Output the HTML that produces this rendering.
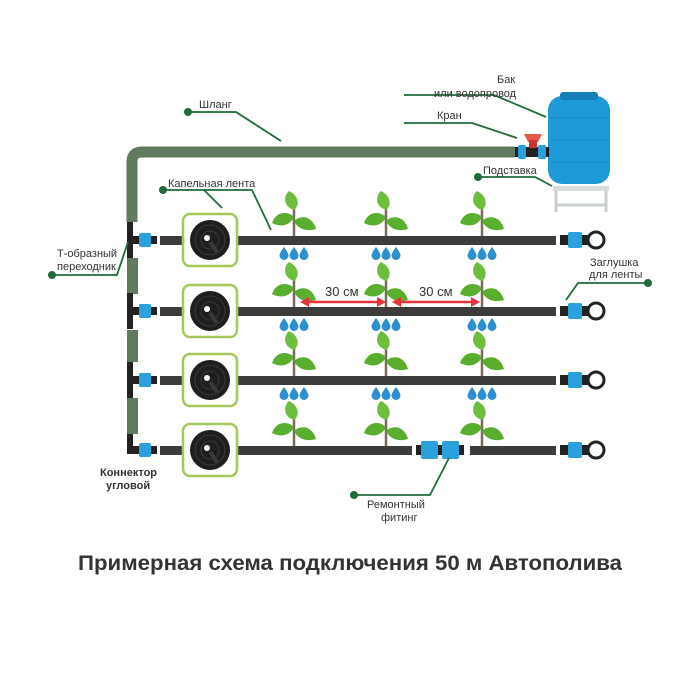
<!DOCTYPE html>
<html><head><meta charset="utf-8"><style>
html,body{margin:0;padding:0;background:#fff}
svg{display:block}
text{font-family:"Liberation Sans",sans-serif;fill:#333}
</style></head><body>
<svg width="700" height="700" viewBox="0 0 700 700" xmlns="http://www.w3.org/2000/svg">
<defs>
<g id="plant">
 <path d="M0 0 L0 -28" stroke="#7a6a5a" stroke-width="2.5" fill="none"/>
 <path d="M0 -26 C-12 -30 -10 -41 -5 -45 C5 -40 6 -31 0 -26Z" fill="#6cbf3c"/>
 <path d="M0 -19 C-6 -25 -18 -25 -22 -13 C-12 -8 -4 -11 0 -19Z" fill="#5aae2e"/>
 <path d="M0 -15 C6 -21 18 -21 22 -7 C12 -4 4 -7 0 -15Z" fill="#5aae2e"/>
</g>
<g id="drop"><path d="M0 -6 C3 -2 4.5 1 4.5 2.5 A4.5 4.5 0 0 1 -4.5 2.5 C-4.5 1 -3 -2 0 -6Z" fill="#2b8fd0"/></g>
<g id="drops"><use href="#drop" x="-10"/><use href="#drop"/><use href="#drop" x="10"/></g>
<g id="coil">
 <rect x="-27" y="-26" width="54" height="52" rx="7" fill="#fff" stroke="#a4c85a" stroke-width="2.5"/>
 <circle r="20" fill="#1e1e1e"/>
 <circle r="15" fill="none" stroke="#3a3a3a" stroke-width="1"/>
 <circle r="9" fill="none" stroke="#3a3a3a" stroke-width="1"/>
 <circle cx="-3" cy="-2" r="3" fill="#fff"/>
 <path d="M0 2 L7 12" stroke="#3a3a3a" stroke-width="4"/>
</g>
<g id="cap">
 <rect x="-8" y="-5" width="8" height="10" fill="#222"/>
 <rect x="0" y="-8" width="14" height="16" rx="2" fill="#2aa0dc"/>
 <rect x="14" y="-5" width="6" height="10" fill="#222"/>
 <circle cx="28" cy="0" r="8" fill="none" stroke="#222" stroke-width="3"/>
</g>
<g id="tee">
 <rect x="-3" y="-18" width="6" height="36" fill="#222"/>
 <rect x="3" y="-4" width="6" height="8" fill="#222"/>
 <rect x="9" y="-7" width="12" height="14" rx="2" fill="#2aa0dc"/>
 <rect x="21" y="-4" width="6" height="8" fill="#222"/>
</g>
</defs>

<path d="M132 222 L132 162 Q132 152 142 152 L515 152" stroke="#5f7a5f" stroke-width="11" fill="none"/>
<rect x="127" y="258" width="11" height="36" fill="#5f7a5f"/>
<rect x="127" y="330" width="11" height="32" fill="#5f7a5f"/>
<rect x="127" y="398" width="11" height="36" fill="#5f7a5f"/>

<g fill="#3c3c3c">
<rect x="160" y="236" width="24" height="9"/><rect x="238" y="236" width="318" height="9"/>
<rect x="160" y="307" width="24" height="9"/><rect x="238" y="307" width="318" height="9"/>
<rect x="160" y="376" width="24" height="9"/><rect x="238" y="376" width="318" height="9"/>
<rect x="160" y="446" width="24" height="9"/><rect x="238" y="446" width="174" height="9"/><rect x="470" y="446" width="86" height="9"/>
</g>
<use href="#coil" x="210" y="240"/>
<use href="#coil" x="210" y="311"/>
<use href="#coil" x="210" y="380"/>
<use href="#coil" x="210" y="450"/>
<use href="#tee" x="130" y="240"/>
<use href="#tee" x="130" y="311"/>
<use href="#tee" x="130" y="380"/>
<g transform="translate(130,450)">
 <rect x="-3" y="-16" width="6" height="20" fill="#222"/>
 <rect x="-3" y="-4" width="12" height="8" fill="#222"/>
 <rect x="9" y="-7" width="12" height="14" rx="2" fill="#2aa0dc"/>
 <rect x="21" y="-4" width="6" height="8" fill="#222"/>
</g>
<use href="#cap" x="568" y="240"/>
<use href="#cap" x="568" y="311"/>
<use href="#cap" x="568" y="380"/>
<use href="#cap" x="568" y="450"/>

<g transform="translate(440,450)">
 <rect x="-24" y="-5" width="48" height="10" fill="#222"/>
 <rect x="-19" y="-9" width="17" height="18" rx="2" fill="#2aa0dc"/>
 <rect x="2" y="-9" width="17" height="18" rx="2" fill="#2aa0dc"/>
</g>

<use href="#plant" x="294" y="236"/><use href="#plant" x="386" y="236"/><use href="#plant" x="482" y="236"/>
<use href="#plant" x="294" y="307"/><use href="#plant" x="386" y="307"/><use href="#plant" x="482" y="307"/>
<use href="#plant" x="294" y="376"/><use href="#plant" x="386" y="376"/><use href="#plant" x="482" y="376"/>
<use href="#plant" x="294" y="446"/><use href="#plant" x="386" y="446"/><use href="#plant" x="482" y="446"/>
<use href="#drops" x="294" y="253"/><use href="#drops" x="386" y="253"/><use href="#drops" x="482" y="253"/>
<use href="#drops" x="294" y="324"/><use href="#drops" x="386" y="324"/><use href="#drops" x="482" y="324"/>
<use href="#drops" x="294" y="393"/><use href="#drops" x="386" y="393"/><use href="#drops" x="482" y="393"/>

<g stroke="#e8333a" stroke-width="2.5" fill="#e8333a">
<line x1="306" y1="302" x2="380" y2="302"/><path d="M300 302 L309 297 L309 307Z" stroke="none"/><path d="M386 302 L377 297 L377 307Z" stroke="none"/>
<line x1="398" y1="302" x2="474" y2="302"/><path d="M392 302 L401 297 L401 307Z" stroke="none"/><path d="M480 302 L471 297 L471 307Z" stroke="none"/>
</g>
<text x="325" y="296" font-size="13">30 см</text>
<text x="419" y="296" font-size="13">30 см</text>

<rect x="548" y="96" width="62" height="88" rx="14" fill="#1e9ad6"/>
<rect x="560" y="92" width="38" height="8" rx="3" fill="#1580b8"/>
<g stroke="#1788c4" stroke-width="1"><line x1="550" y1="118" x2="608" y2="118"/><line x1="550" y1="140" x2="608" y2="140"/><line x1="550" y1="162" x2="608" y2="162"/></g>
<g fill="none" stroke="#c8d0d0" stroke-width="3">
<rect x="553" y="186" width="56" height="5" fill="#d8dede" stroke="none"/>
<line x1="556" y1="191" x2="556" y2="212"/><line x1="606" y1="191" x2="606" y2="212"/><line x1="556" y1="205" x2="606" y2="205"/>
</g>
<rect x="515" y="147" width="34" height="10" fill="#222"/>
<rect x="518" y="145" width="8" height="14" rx="2" fill="#2aa0dc"/>
<rect x="538" y="145" width="8" height="14" rx="2" fill="#2aa0dc"/>
<path d="M524 134 L542 134 L538 142 L528 142Z" fill="#e8574a"/>
<rect x="529" y="140" width="8" height="8" fill="#c0392b"/>

<g stroke="#1f6b3a" stroke-width="1.8" fill="none">
<path d="M188 112 L236 112 L281 141"/>
<path d="M163 190 L204 190 L222 208"/>
<path d="M204 190 L252 190 L271 230"/>
<path d="M52 275 L117 275 L128 242"/>
<path d="M404 95 L494 95 L546 117"/>
<path d="M404 123 L472 123 L517 138"/>
<path d="M478 177 L535 177 L552 186"/>
<path d="M648 283 L578 283 L566 300"/>
<path d="M354 495 L430 495 L449 458"/>
</g>
<g fill="#1f6b3a">
<circle cx="188" cy="112" r="4"/><circle cx="163" cy="190" r="4"/><circle cx="52" cy="275" r="4"/>
<circle cx="478" cy="177" r="4"/><circle cx="648" cy="283" r="4"/><circle cx="354" cy="495" r="4"/>
</g>

<g font-size="11">
<text x="199" y="108">Шланг</text>
<text x="168" y="187">Капельная лента</text>
<text x="57" y="257">Т-образный</text>
<text x="57" y="270">переходник</text>
<text x="497" y="83">Бак</text>
<text x="434" y="97">или водопровод</text>
<text x="437" y="119">Кран</text>
<text x="483" y="174">Подставка</text>
<text x="590" y="266">Заглушка</text>
<text x="589" y="278">для ленты</text>
<text x="100" y="476" font-weight="bold" fill="#444">Коннектор</text>
<text x="106" y="489" font-weight="bold" fill="#444">угловой</text>
<text x="367" y="508">Ремонтный</text>
<text x="381" y="521">фитинг</text>
</g>
<text x="78" y="570" font-size="21" font-weight="bold" fill="#333" textLength="544" lengthAdjust="spacingAndGlyphs">Примерная схема подключения 50 м Автополива</text>
</svg>
</body></html>
